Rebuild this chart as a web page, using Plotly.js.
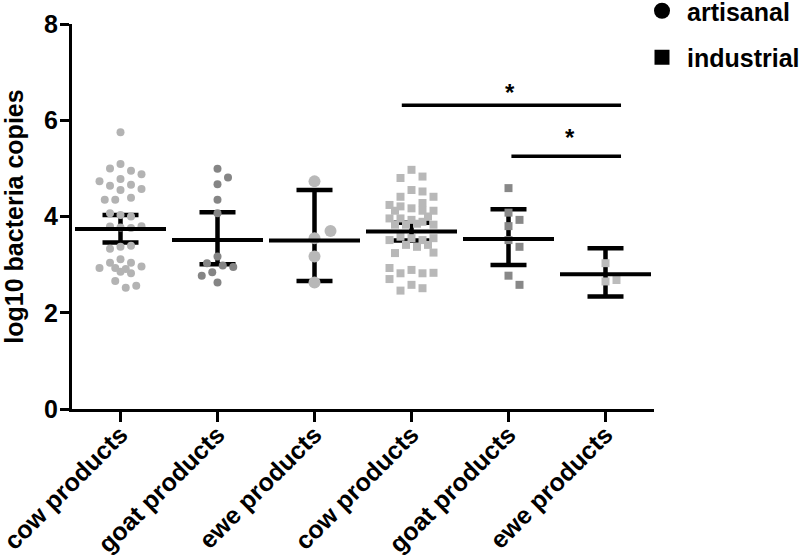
<!DOCTYPE html>
<html>
<head>
<meta charset="utf-8">
<script src="https://cdn.plot.ly/plotly-3.0.1.min.js"></script>
<style>html,body{margin:0;padding:0;background:#fff;}#chart{width:800px;height:560px;}</style>
</head>
<body>
<div id="chart"></div>
<script>
// ---- data ----
const categories = ["cow products", "goat products", "ewe products", "cow products", "goat products", "ewe products"];
const groups = ["artisanal", "artisanal", "artisanal", "industrial", "industrial", "industrial"];

const cowArtisanal = [5.75, 5.09, 4.95, 5.00, 4.88, 4.78, 4.66, 4.64, 4.73, 4.57, 4.55, 4.39, 4.35, 4.35, 4.03, 4.00, 4.07, 3.77, 3.79, 3.76, 3.80, 3.37, 3.39, 3.33, 3.11, 3.04, 3.04, 2.96, 2.93, 2.85, 2.82, 2.91, 2.93, 2.66, 2.52, 2.56];
const goatArtisanal = [4.99, 4.81, 4.67, 4.35, 4.07, 3.17, 2.98, 3.03, 2.95, 2.84, 2.77, 2.63];
const eweArtisanal = [4.73, 3.55, 3.70, 3.17, 2.63];
const cowIndustrial = [4.97, 4.83, 4.80, 4.55, 4.52, 4.41, 4.41, 4.17, 4.28, 4.24, 4.21, 4.12, 4.12, 4.12, 3.93, 3.96, 4.00, 3.96, 3.89, 3.83, 3.83, 3.83, 3.85, 3.55, 3.51, 3.58, 3.55, 3.51, 3.41, 3.37, 3.41, 3.24, 3.25, 2.89, 2.82, 2.82, 2.83, 2.93, 2.70, 2.58, 2.51, 2.46];
const goatIndustrial = [4.59, 4.08, 3.93, 3.80, 3.51, 3.37, 2.77, 2.58];
const eweIndustrial = [3.03, 2.65, 2.68];

const means = [3.74, 3.51, 3.50, 3.69, 3.53, 2.80];
const lowerCI = [3.46, 3.01, 2.66, 3.50, 2.99, 2.34];
const upperCI = [4.03, 4.09, 4.55, 3.87, 4.15, 3.34];

// significance brackets and stars
const sigFrom = [2.9, 4.03];
const sigTo = [5.16, 5.16];
const sigLevel = [6.31, 5.25];
const starX = [4.02, 4.63];
const starY = [6.57, 5.64];
const starText = ["*", "*"];

// ---- layout constants ----
const W = 800, H = 560;
const M = {l: 72, r: 146, t: 24, b: 151, autoexpand: false};
const xRange = [-0.5, 5.5], yRange = [0, 8];
const pxPerX = (W - M.l - M.r) / (xRange[1] - xRange[0]);
const pxPerY = (H - M.t - M.b) / (yRange[1] - yRange[0]);

const FONT = "Liberation Sans, Arial, Helvetica, sans-serif";
const FS = 25;

// deterministic beeswarm (Prism-like scatter dot plot), width-limited; points placed in data order
function swarm(center, values, D, maxW) {
  const n = values.length;
  const placed = [];
  const xs = new Array(n);
  const step = D / 2;
  const kMax = Math.floor(maxW / step);
  for (let i = 0; i < n; i++) {
    const yp = values[i] * pxPerY;
    let chosen = null, best = 0, bestD = -1;
    for (let k = 0; k <= kMax && chosen === null; k++) {
      const cands = k === 0 ? [0] : [k * step, -k * step];
      for (const c of cands) {
        let md = Infinity;
        for (const p of placed) {
          const dx = p.x - c, dy = p.y - yp;
          md = Math.min(md, Math.sqrt(dx * dx + dy * dy));
        }
        if (md >= D - 0.01) { chosen = c; break; }
        if (md > bestD + 0.5) { bestD = md; best = c; }
      }
    }
    if (chosen === null) chosen = best;
    placed.push({x: chosen, y: yp});
    xs[i] = center + chosen / pxPerX;
  }
  return xs;
}

const series = [
  {vals: cowArtisanal, idx: 0, sym: "circle", size: 8, color: "#b3b3b3", D: 10.5},
  {vals: goatArtisanal, idx: 1, sym: "circle", size: 8, color: "#858585", D: 10.5},
  {vals: eweArtisanal, idx: 2, sym: "circle", size: 12, color: "#b8b8b8", D: 16},
  {vals: cowIndustrial, idx: 3, sym: "square", size: 8, color: "#b8b8b8", D: 11},
  {vals: goatIndustrial, idx: 4, sym: "square", size: 8, color: "#888888", D: 11},
  {vals: eweIndustrial, idx: 5, sym: "square", size: 8, color: "#bcbcbc", D: 11}
];

const xIdx = categories.map((c, i) => i);
const traces = [];

// error bars (CI) drawn first
traces.push({
  type: "scatter", mode: "markers", x: xIdx, y: means,
  marker: {opacity: 0, size: 1},
  error_y: {type: "data", symmetric: false,
    array: upperCI.map((u, i) => u - means[i]),
    arrayminus: lowerCI.map((l, i) => means[i] - l),
    color: "#000", thickness: 4.5, width: 18},
  showlegend: false, hoverinfo: "skip"
});

// points
series.forEach(s => {
  traces.push({
    type: "scatter", mode: "markers",
    x: swarm(s.idx, s.vals, s.D, 24), y: s.vals,
    marker: {symbol: s.sym, size: s.size, color: s.color, line: {width: 0}},
    showlegend: false, cliponaxis: false
  });
});

// mean lines on top
traces.push({
  type: "scatter", mode: "markers", x: xIdx, y: means,
  marker: {symbol: "line-ew", size: 65, color: "#000", line: {width: 4, color: "#000"}},
  showlegend: false
});

// legend entries
traces.push({type: "scatter", mode: "markers", x: [null], y: [null], name: "artisanal", legendgroup: "a",
  marker: {symbol: "circle", size: 16, color: "#000"}});
traces.push({type: "scatter", mode: "markers", x: [null], y: [null], name: "industrial", legendgroup: "b",
  marker: {symbol: "square", size: 15, color: "#000"}});

const shapes = sigFrom.map((f, i) => ({
  type: "line", xref: "x", yref: "y", x0: f, x1: sigTo[i], y0: sigLevel[i], y1: sigLevel[i],
  line: {color: "#000", width: 3.5}
}));

const annotations = starX.map((x, i) => ({
  x: x, y: starY[i], xref: "x", yref: "y", text: starText[i], showarrow: false,
  xanchor: "center", yanchor: "middle",
  font: {family: FONT, size: 24, weight: "bold", color: "#000"}
}));

const layout = {
  width: W, height: H,
  margin: M,
  paper_bgcolor: "#fff", plot_bgcolor: "#fff",
  hovermode: false,
  showlegend: true,
  legend: {
    x: (637 - M.l) / (W - M.l - M.r), xanchor: "left",
    y: 1 + (M.t + 12) / (H - M.t - M.b), yanchor: "top",
    font: {family: FONT, size: FS, weight: "bold", color: "#000"},
    traceorder: "grouped", tracegroupgap: 11,
    bgcolor: "rgba(0,0,0,0)", borderwidth: 0, itemwidth: 40
  },
  xaxis: {
    range: xRange, showgrid: false, zeroline: false,
    showline: true, linecolor: "#000", linewidth: 3,
    ticks: "outside", ticklen: 10, tickwidth: 3, tickcolor: "#000",
    tickvals: xIdx, ticktext: categories, tickangle: -45,
    ticklabeloverflow: "allow", ticklabelstandoff: -12,
    tickfont: {family: FONT, size: FS, weight: "bold", color: "#000"}
  },
  yaxis: {
    range: yRange, showgrid: false, zeroline: false,
    showline: true, linecolor: "#000", linewidth: 3,
    ticks: "outside", ticklen: 9, tickwidth: 3, tickcolor: "#000",
    tickvals: [0, 2, 4, 6, 8],
    ticklabelstandoff: -3,
    tickfont: {family: FONT, size: FS, weight: "bold", color: "#000"},
    title: {text: "log10 bacteria copies", standoff: 15,
      font: {family: FONT, size: FS, weight: "bold", color: "#000"}}
  },
  shapes: shapes,
  annotations: annotations
};

Plotly.newPlot("chart", traces, layout, {displayModeBar: false, staticPlot: true});
</script>
</body>
</html>
